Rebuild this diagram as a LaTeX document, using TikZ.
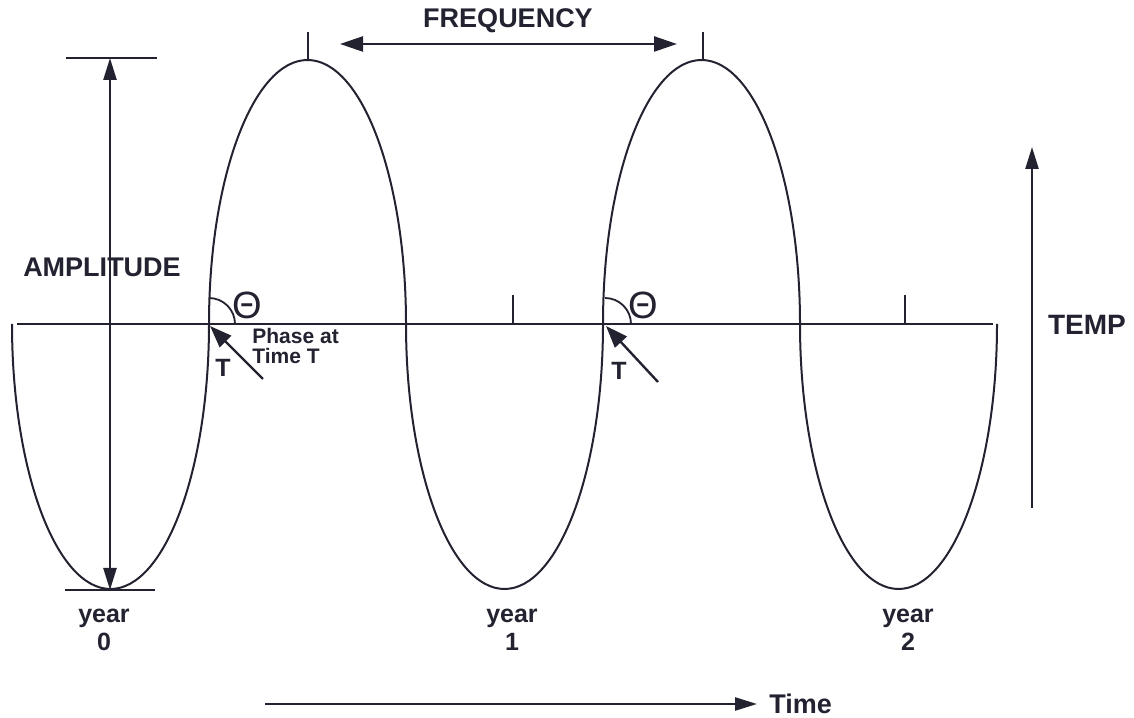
\documentclass[tikz,border=0pt]{standalone}
\usepackage{fontspec}
\setmainfont{Liberation Sans}
\usetikzlibrary{arrows.meta}
\definecolor{ink}{RGB}{34,34,48}
\begin{document}
\begin{tikzpicture}[x=0.5pt,y=0.5pt,
  color=ink,
  wave/.style={line width=1pt},
  axisline/.style={line width=1pt},
  tick/.style={line width=0.9pt},
  dim/.style={line width=1.2pt},
  headA/.style={-{Triangle[length=11pt,width=6.5pt]}},
  headB/.style={{Triangle[length=11.5pt,width=7.5pt]}-{Triangle[length=11.5pt,width=7.5pt]}},
  headT/.style={-{Triangle[length=11pt,width=8pt]}},
  lbl/.style={font=\bfseries\fontsize{13.5}{14}\selectfont, inner sep=0pt, text=ink},
  yearlbl/.style={font=\bfseries\fontsize{12.5}{14}\selectfont, inner sep=0pt, text=ink, align=center},
  small/.style={font=\bfseries\fontsize{10.5}{10}\selectfont, inner sep=0pt, text=ink, align=left},
  thetalbl/.style={font=\fontsize{19}{19}\selectfont, inner sep=0pt, text=ink}
]
\useasboundingbox (0,0) rectangle (1134,717);

% axis
\coordinate (axL) at (17,393);
\coordinate (axR) at (993,393);
\draw[axisline] (axL) -- (axR);

% wave made of elliptic halves
\coordinate (w0) at (12,393);
\draw[wave] (w0)
  arc[start angle=180,end angle=360,x radius=49.25pt,y radius=132.5pt]
  arc[start angle=180,end angle=0,x radius=49.25pt,y radius=132pt]
  arc[start angle=180,end angle=360,x radius=49.25pt,y radius=132.5pt]
  arc[start angle=180,end angle=0,x radius=49.25pt,y radius=132pt]
  arc[start angle=180,end angle=360,x radius=49.25pt,y radius=132.5pt];

% ticks at peaks
\coordinate (pk1) at (308,657);
\coordinate (pk1t) at (308,685);
\coordinate (pk2) at (703,657);
\coordinate (pk2t) at (703,685);
\draw[tick] (pk1) -- (pk1t);
\draw[tick] (pk2) -- (pk2t);

% ticks on axis
\coordinate (ax1) at (513,393);
\coordinate (ax1t) at (513,422);
\coordinate (ax2) at (905,393);
\coordinate (ax2t) at (905,422);
\draw[tick] (ax1) -- (ax1t);
\draw[tick] (ax2) -- (ax2t);

% amplitude
\coordinate (atl) at (66,659);
\coordinate (atr) at (157,659);
\coordinate (abl) at (65,127);
\coordinate (abr) at (155,127);
\coordinate (atop) at (110,659);
\coordinate (abot) at (110,127);
\draw[tick] (atl) -- (atr);
\draw[tick] (abl) -- (abr);
\draw[dim,{Triangle[length=11pt,width=6.5pt]}-{Triangle[length=11pt,width=6.5pt]}] (atop) -- (abot);
\node[lbl] (amp) at (102,450) {AMPLITUDE};

% frequency
\coordinate (fL) at (340,673);
\coordinate (fR) at (677,673);
\draw[dim,headB] (fL) -- (fR);
\node[lbl] (freq) at (508,696) {FREQUENCY};

% phase marks
\coordinate (c1) at (209,393);
\coordinate (c1top) at (209,419);
\draw[tick] (c1top) arc[start angle=90,end angle=0,radius=13pt];
\node[thetalbl] (th1) at (247,412) {Θ};
\coordinate (t1tail) at (263,338);
\coordinate (t1tip) at (210,391);
\draw[dim,headT] (t1tail) -- (t1tip);
\node[lbl,font=\bfseries\fontsize{12.5}{13}\selectfont] (T1) at (223,349) {T};
\node[small,anchor=west] (phase) at (252,371) {Phase at\\Time T};

\coordinate (c2) at (605,393);
\coordinate (c2top) at (605,419);
\draw[tick] (c2top) arc[start angle=90,end angle=0,radius=13pt];
\node[thetalbl] (th2) at (643,412) {Θ};
\coordinate (t2tail) at (658,335);
\coordinate (t2tip) at (606,391);
\draw[dim,headT] (t2tail) -- (t2tip);
\node[lbl,font=\bfseries\fontsize{12.5}{13}\selectfont] (T2) at (619,346) {T};

% temp
\coordinate (tpB) at (1032,209);
\coordinate (tpT) at (1032,570);
\draw[dim,headA] (tpB) -- (tpT);
\node[lbl,font=\bfseries\fontsize{14}{14}\selectfont] (temp) at (1087,392) {TEMP};

% time
\coordinate (tmL) at (265,13);
\coordinate (tmR) at (757,13);
\draw[dim,headA] (tmL) -- (tmR);
\node[lbl,anchor=west] (time) at (769,13) {Time};

% years
\node[yearlbl] (y0) at (104,87) {year\\0};
\node[yearlbl] (y1) at (512,87) {year\\1};
\node[yearlbl] (y2) at (908,87) {year\\2};
\end{tikzpicture}
\end{document}
